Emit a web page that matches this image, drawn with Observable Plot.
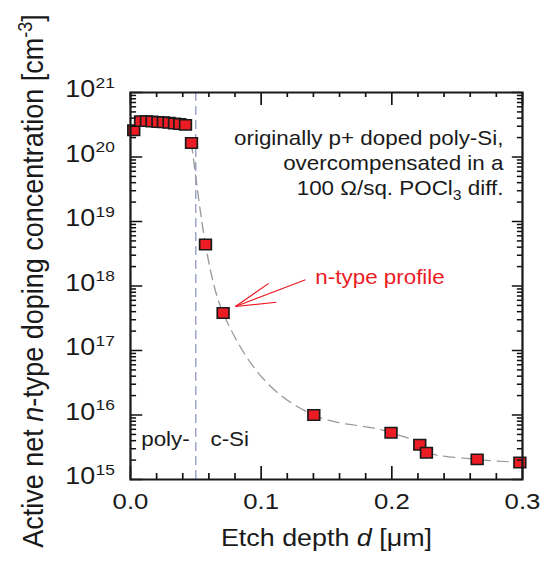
<!DOCTYPE html>
<html><head><meta charset="utf-8">
<script src="https://cdn.jsdelivr.net/npm/d3@7"></script>
<script src="https://cdn.jsdelivr.net/npm/@observablehq/plot@0.6"></script>
<style>
body{margin:0;background:#fff;}
#chart{width:542px;height:574px;overflow:hidden;}
#chart svg{transform:scaleX(1.12);transform-origin:0 0;display:block;}
</style></head><body><div id="chart"></div>
<script>
// measured profile
const depth = [0.0025, 0.0077, 0.0122, 0.0165, 0.0210, 0.0252, 0.0295, 0.0337, 0.0377, 0.0421, 0.0467, 0.0574, 0.0709, 0.1403, 0.1994, 0.2214, 0.2265, 0.2653, 0.2980];
const conc  = [2.6e20, 3.6e20, 3.6e20, 3.55e20, 3.5e20, 3.45e20, 3.4e20, 3.3e20, 3.25e20, 3.15e20, 1.65e20, 4.4e18, 3.8e17, 1.0e16, 5.3e15, 3.45e15, 2.6e15, 2.05e15, 1.84e15];
const fitStart = 0.046;
const boundary = [0.05];

// ticks
const xMajor = [0, 0.1, 0.2, 0.3];
const xMinor = [0.02, 0.04, 0.06, 0.08, 0.12, 0.14, 0.16, 0.18, 0.22, 0.24, 0.26, 0.28];
const yExp = [15, 16, 17, 18, 19, 20, 21];
const yMinorMult = [2, 3, 4, 5, 6, 7, 8, 9];

// annotations
const noteLines = ["originally p+ doped poly-Si,", "overcompensated in a", "100 Ω/sq. POCl3 diff."];
const noteY = [1.94e20, 7.9e19, 3.25e19];
const noteX = 0.2854;
const arrowLines = [
  {x1: 0.1339, y1: 1.25e18, x2: 0.0803, y2: 4.81e17},
  {x1: 0.1058, y1: 1.10e18, x2: 0.0803, y2: 4.81e17},
  {x1: 0.1117, y1: 5.6e17,  x2: 0.0803, y2: 4.81e17}
];
const arrowLabel = {text: "n-type profile", x: 0.1415, y: 1.35e18};
const regionLabels = [{text: "poly-", x: 0.0082, y: 4.2e15}, {text: "c-Si", x: 0.0612, y: 4.2e15}];
const xTitle = "Etch depth d [μm]";
const yTitle = "Active net n-type doping concentration [cm-3]";

const points = depth.map((d, i) => ({d, n: conc[i]}));
const fit = points.filter(p => p.d >= fitStart);
const yMinor = yExp.slice(0, -1).flatMap(e => yMinorMult.map(m => m * 10 ** e));
const yMajor = yExp.map(e => 10 ** e);

const W = 484, H = 574, ML = 116, MR = 18, MT = 92, MB = 95;
const FW = W - ML - MR, FH = H - MT - MB;

const RED = "#ec1c24";
const INK = "#1a1a1a";
const tk = {stroke: "#111111", strokeWidth: 1.5};

const plot = Plot.plot({
  width: W, height: H,
  marginLeft: ML, marginRight: MR, marginTop: MT, marginBottom: MB,
  style: {fontFamily: "'Liberation Sans', Arial, sans-serif", background: "white"},
  x: {domain: [0, 0.3], axis: null},
  y: {type: "log", domain: [1e15, 1e21], axis: null},
  marks: [
    Plot.ruleX(boundary, {stroke: "#7f88b4", strokeDasharray: "9,5", strokeWidth: 1}),
    Plot.line(fit, {x: "d", y: "n", curve: "monotone-x", stroke: "#9a9a9a", strokeDasharray: "10,6", strokeWidth: 1.2}),
    Plot.link(arrowLines, {x1: "x1", y1: "y1", x2: "x2", y2: "y2", stroke: RED, strokeWidth: 1.1}),
    Plot.dot(points, {x: "d", y: "n", symbol: "square", r: 5.9, fill: RED, stroke: INK, strokeWidth: 1.5}),
    // inward ticks on all four sides
    Plot.tickX(xMajor, {x: d => d, insetTop: FH - 13, ...tk}),
    Plot.tickX(xMinor, {x: d => d, insetTop: FH - 6, ...tk}),
    Plot.tickX(xMajor, {x: d => d, insetBottom: FH - 13, ...tk}),
    Plot.tickX(xMinor, {x: d => d, insetBottom: FH - 5, ...tk}),
    Plot.tickY(yMajor, {y: d => d, insetRight: FW - 11, ...tk}),
    Plot.tickY(yMinor, {y: d => d, insetRight: FW - 5.5, ...tk}),
    Plot.tickY(yMajor, {y: d => d, insetLeft: FW - 9, ...tk}),
    Plot.tickY(yMinor, {y: d => d, insetLeft: FW - 4.5, ...tk}),
    Plot.frame({stroke: INK, strokeWidth: 2}),
    // tick labels
    Plot.text(xMajor, {x: d => d, text: d => d.toFixed(1), frameAnchor: "bottom", dy: 29, fontSize: 23, fill: INK}),
    Plot.text(yExp, {y: e => 10 ** e, text: () => "10", frameAnchor: "left", textAnchor: "end", dx: -31.5, dy: -3, fontSize: 24, fill: INK}),
    Plot.text(yExp, {y: e => 10 ** e, text: e => String(e), frameAnchor: "left", textAnchor: "end", dx: -14, dy: -9.5, fontSize: 15.5, fill: INK}),
    // axis titles
    Plot.text([xTitle], {text: d => d, frameAnchor: "bottom", dy: 66, fontSize: 24, fill: INK}),
    Plot.text([yTitle], {text: d => d, frameAnchor: "left", textAnchor: "middle", rotate: -90, dx: -87, dy: -5, fontSize: 27, fill: INK}),
    // annotations
    Plot.text(noteLines, {x: () => noteX, y: (d, i) => noteY[i], text: d => d, textAnchor: "end", fontSize: 20, fill: INK}),
    Plot.text([arrowLabel], {x: "x", y: "y", text: "text", textAnchor: "start", fontSize: 20, fill: RED}),
    Plot.text(regionLabels, {x: "x", y: "y", text: "text", textAnchor: "start", fontSize: 20, fill: INK})
  ]
});

// rich-text touches (italics, super/subscripts)
plot.querySelectorAll("text").forEach(t => {
  const s = t.textContent;
  if (s === "100 Ω/sq. POCl3 diff.") {
    t.innerHTML = '100 Ω/sq. POCl<tspan dy="5" font-size="14">3</tspan><tspan dy="-5"> diff.</tspan>';
  } else if (s === xTitle) {
    t.innerHTML = 'Etch depth <tspan font-style="italic">d</tspan> [μm]';
  } else if (s === yTitle) {
    t.innerHTML = 'Active net <tspan font-style="italic">n</tspan>-type doping concentration [cm<tspan dy="-10" font-size="18">-3</tspan><tspan dy="10">]</tspan>';
  }
});

document.getElementById("chart").appendChild(plot);
</script></body></html>
